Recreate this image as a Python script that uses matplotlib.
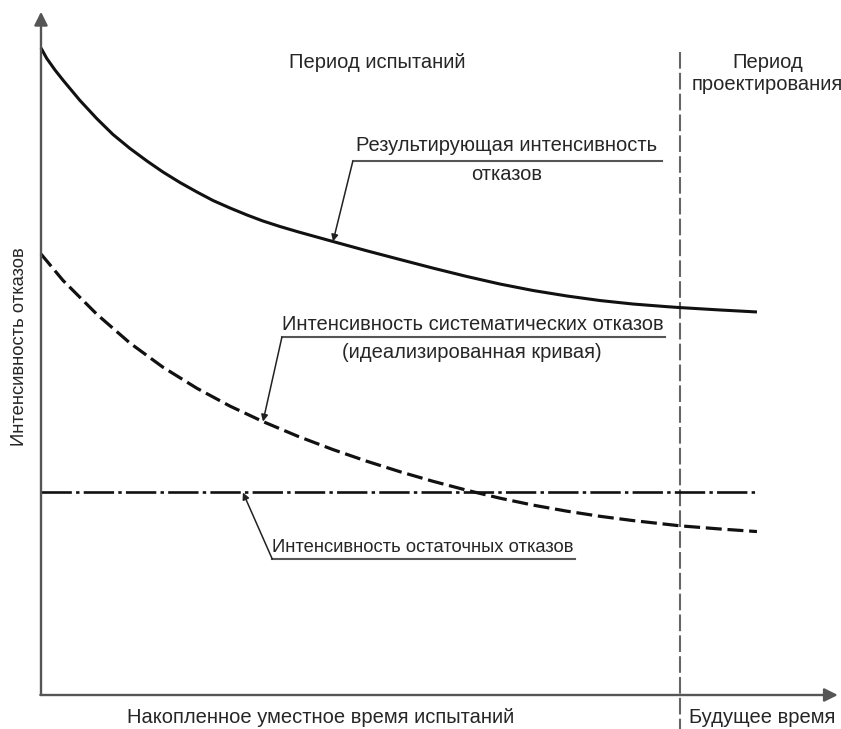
import matplotlib
matplotlib.use('Agg')
import matplotlib.pyplot as plt

# накопленное время (100 = конец периода испытаний) и интенсивности отказов (усл. ед.)
t_result = [0, 0.89, 2.19, 3.49, 6.10, 8.72, 11.27, 13.93, 16.59, 19.09, 21.75, 24.41,
            26.92, 29.58, 32.24, 34.74, 37.40, 40.22, 45.70, 50.94, 56.18, 61.35, 66.67,
            71.83, 77.00, 82.32, 87.48, 92.64, 97.97, 100.0, 106.26, 112.05]
lam_result = [100.0, 98.41, 96.60, 94.98, 91.89, 89.10, 86.63, 84.47, 82.53, 80.83, 79.21,
              77.74, 76.43, 75.27, 74.19, 73.26, 72.41, 71.59, 70.09, 68.67, 67.31, 65.98,
              64.68, 63.52, 62.52, 61.67, 60.97, 60.43, 60.02, 59.88, 59.51, 59.20]

t_system = [0, 3.44, 8.76, 13.93, 19.09, 24.41, 29.58, 34.74, 40.22, 45.70, 51.02, 56.18,
            61.35, 66.67, 71.83, 77.00, 82.32, 87.48, 92.64, 100.0, 106.26, 112.05]
lam_system = [68.16, 64.08, 58.83, 54.39, 50.66, 47.40, 44.65, 42.26, 39.98, 37.93, 36.12,
              34.51, 33.03, 31.64, 30.42, 29.35, 28.41, 27.62, 26.96, 26.15, 25.66, 25.26]

t_resid = [0, 112.05]
lam_resid = [31.3, 31.3]

t_design = 100          # граница периода испытаний
t_axis_end = 124.7
lam_axis_end = 105.6

line_col = '#111111'
axis_col = '#555555'
txt_col = '#262626'
fs = 14.5
plt.rcParams['font.family'] = ['Liberation Sans', 'DejaVu Sans']

fig = plt.figure(figsize=(8.41, 7.29), dpi=100)
ax = fig.add_axes([0, 0, 1, 1])
ax.set_xlim(-6.416, 125.2)
ax.set_ylim(-5.255, 107.42)
ax.axis('off')

# оси со стрелками
ax.annotate('', xy=(0, lam_axis_end), xytext=(0, 0),
            arrowprops=dict(arrowstyle='-|>', lw=1.7, color=axis_col, mutation_scale=20,
                            shrinkA=0, shrinkB=0))
ax.annotate('', xy=(t_axis_end, 0), xytext=(-0.1, 0),
            arrowprops=dict(arrowstyle='-|>', lw=1.7, color=axis_col, mutation_scale=20,
                            shrinkA=0, shrinkB=0))

# граница периодов
ax.plot([t_design, t_design], [99.4, -5.3], color='#666666', lw=1.5,
        linestyle=(0, (8.0, 2.0)))

# кривые
ax.plot(t_result, lam_result, color=line_col, lw=2.2, solid_capstyle='butt')
ax.plot(t_system, lam_system, color=line_col, lw=2.3, linestyle=(0, (5.0, 1.8)))
ax.plot(t_resid, lam_resid, color=line_col, lw=1.9, linestyle=(0, (11.5, 1.6, 1.3, 1.6)))

# выноски
arr = dict(arrowstyle='-|>', lw=1.1, color='#222222', mutation_scale=10, shrinkA=0, shrinkB=0)

ax.plot([48.8, 97.2], [82.5, 82.5], color=axis_col, lw=1.5)
ax.annotate('', xy=(t_result[18], lam_result[18]), xytext=(48.8, 82.5), arrowprops=arr)
ax.text(72.9, 85.0, 'Результирующая интенсивность', ha='center', va='center',
        fontsize=fs, color=txt_col)
ax.text(72.9, 80.4, 'отказов', ha='center', va='center', fontsize=fs, color=txt_col)

ax.plot([37.7, 97.7], [55.3, 55.3], color=axis_col, lw=1.5)
ax.annotate('', xy=(t_system[7], lam_system[7]), xytext=(37.7, 55.3), arrowprops=arr)
ax.text(67.6, 57.2, 'Интенсивность систематических отказов', ha='center', va='center',
        fontsize=fs, color=txt_col)
ax.text(67.4, 52.9, '(идеализированная кривая)', ha='center', va='center',
        fontsize=fs, color=txt_col)

ax.plot([36.2, 83.6], [21.0, 21.0], color=axis_col, lw=1.5)
ax.annotate('', xy=(31.6, lam_resid[0]), xytext=(36.2, 21.0), arrowprops=arr)
ax.text(59.8, 22.8, 'Интенсивность остаточных отказов', ha='center', va='center',
        fontsize=13.2, color=txt_col)

# подписи
ax.text(52.6, 97.7, 'Период испытаний', ha='center', va='center', fontsize=fs, color=txt_col)
ax.text(113.7, 97.8, 'Период', ha='center', va='center', fontsize=fs, color=txt_col)
ax.text(113.6, 94.4, 'проектирования', ha='center', va='center', fontsize=fs, color=txt_col)
ax.text(43.7, -3.5, 'Накопленное уместное время испытаний', ha='center', va='center',
        fontsize=fs, color=txt_col)
ax.text(112.9, -3.5, 'Будущее время', ha='center', va='center', fontsize=fs, color=txt_col)
ax.text(-3.3, 53.8, 'Интенсивность отказов', ha='center', va='center', rotation=90,
        fontsize=13.2, color=txt_col)

fig.savefig('out.png', dpi=100, facecolor='white')
